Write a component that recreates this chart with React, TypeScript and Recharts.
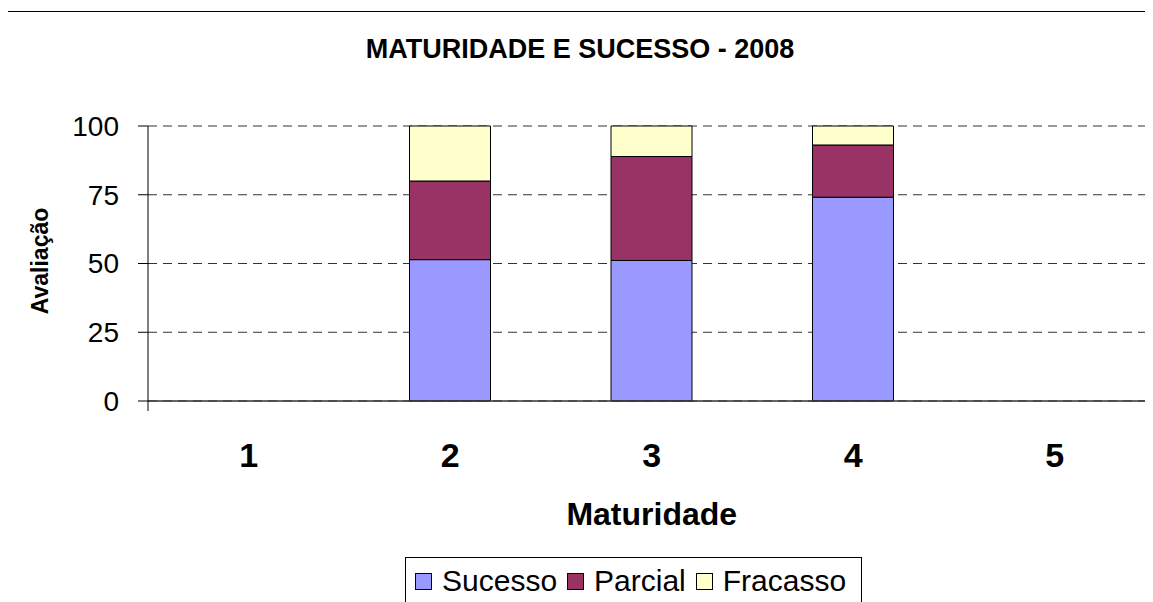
import { Bar, BarChart, CartesianGrid, XAxis, YAxis } from "recharts";

// values (percent of projects per maturity level)
const levels = ["1", "2", "3", "4", "5"];
const sucesso = [0, 51.4, 51.1, 74.1, 0];
const parcial = [0, 28.6, 37.8, 19.0, 0];
const fracasso = [0, 20.0, 11.1, 6.9, 0];
const yTicks = [0, 25, 50, 75, 100];

const series = [
  { key: "sucesso", name: "Sucesso", color: "#9999FF" },
  { key: "parcial", name: "Parcial", color: "#993366" },
  { key: "fracasso", name: "Fracasso", color: "#FFFFCC" },
];

const data = levels.map((level, i) => ({
  level,
  sucesso: sucesso[i],
  parcial: parcial[i],
  fracasso: fracasso[i],
}));

const FONT = '"Liberation Sans", Arial, sans-serif';
const CHART_W = 1180;
const Y_AXIS_W = 148;
const RIGHT = 24.5;
const BAND = (CHART_W - Y_AXIS_W - RIGHT) / levels.length;

function LevelTick({ x, y, payload, index }: any) {
  return (
    <g>
      {index === 0 && (
        <line x1={x - BAND / 2} x2={x - BAND / 2} y1={y} y2={y + 10} stroke="#000" />
      )}
      <text
        x={x}
        y={y + 66}
        textAnchor="middle"
        fontFamily={FONT}
        fontWeight="bold"
        fontSize={34}
        fill="#000"
      >
        {payload.value}
      </text>
    </g>
  );
}

export default function App() {
  return (
    <div
      style={{
        position: "relative",
        width: 1153,
        height: 602,
        margin: "-8px 0 0 -8px",
        overflow: "hidden",
        background: "#fff",
        fontFamily: FONT,
      }}
    >
      <div
        style={{
          position: "absolute",
          left: 7,
          top: 11,
          width: 1200,
          height: 700,
          border: "1.5px solid #000",
        }}
      />
      <div
        style={{
          position: "absolute",
          left: 0,
          width: 1160,
          top: 34,
          textAlign: "center",
          fontWeight: "bold",
          fontSize: 27,
          lineHeight: "30px",
          color: "#000",
        }}
      >
        MATURIDADE E SUCESSO - 2008
      </div>

      <div style={{ position: "absolute", left: 0, top: 0 }}>
        <BarChart
          width={CHART_W}
          height={602}
          data={data}
          margin={{ top: 126, right: RIGHT, left: 0, bottom: 0 }}
          barCategoryGap={0}
        >
          <CartesianGrid vertical={false} stroke="#333" strokeDasharray="9 6" />
          <XAxis
            dataKey="level"
            height={201}
            tick={<LevelTick />}
            tickLine={false}
            tickSize={0}
            tickMargin={0}
            axisLine={{ stroke: "#333", strokeWidth: 1.5 }}
            label={{
              content: ({ viewBox }: any) => (
                <text
                  x={viewBox.x + viewBox.width / 2}
                  y={525}
                  textAnchor="middle"
                  fontFamily={FONT}
                  fontWeight="bold"
                  fontSize={32}
                  fill="#000"
                >
                  Maturidade
                </text>
              ),
            }}
          />
          <YAxis
            width={Y_AXIS_W}
            domain={[0, 100]}
            ticks={yTicks}
            interval={0}
            tickSize={10}
            tickMargin={19}
            tick={{ fill: "#000", fontSize: 28, fontFamily: FONT }}
            axisLine={{ stroke: "#000" }}
            tickLine={{ stroke: "#000" }}
            label={{
              content: () => (
                <text
                  x={40}
                  y={261}
                  dy="0.35em"
                  textAnchor="middle"
                  transform="rotate(-90, 40, 261)"
                  fontFamily={FONT}
                  fontWeight="bold"
                  fontSize={23}
                  fill="#000"
                >
                  Avaliação
                </text>
              ),
            }}
          />
          {series.map((s) => (
            <Bar
              key={s.key}
              dataKey={s.key}
              name={s.name}
              stackId="a"
              fill={s.color}
              stroke="#000"
              strokeWidth={1}
              barSize={81}
              isAnimationActive={false}
            />
          ))}
        </BarChart>
      </div>

      <div
        style={{
          position: "absolute",
          left: 405,
          top: 557,
          width: 457,
          height: 80,
          border: "1px solid #000",
          boxSizing: "border-box",
          display: "flex",
          alignItems: "flex-start",
          paddingLeft: 9,
          paddingTop: 7,
          gap: 10,
        }}
      >
        {series.map((s) => (
          <div key={s.key} style={{ display: "flex", alignItems: "center", gap: 10 }}>
            <span
              style={{
                display: "inline-block",
                width: 17,
                height: 17,
                background: s.color,
                border: "1px solid #000",
                boxSizing: "border-box",
              }}
            />
            <span style={{ fontSize: 30, lineHeight: "32px", color: "#000" }}>{s.name}</span>
          </div>
        ))}
      </div>
    </div>
  );
}
